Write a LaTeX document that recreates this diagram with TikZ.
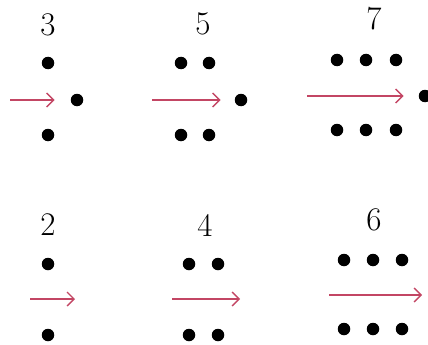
\documentclass[tikz,border=0pt]{standalone}
\usetikzlibrary{arrows.meta}
\definecolor{arrowred}{RGB}{195,70,100}
\begin{document}
\begin{tikzpicture}[x=1pt, y=-1pt,
    mydot/.style={circle, fill=black, inner sep=0pt, minimum size=12.5pt},
    mylabel/.style={font=\fontsize{33}{40}\selectfont, inner sep=0pt},
    myarrow/.style={-{Straight Barb[length=7pt, width=14pt, line width=1.3pt]}, line width=1.5pt, arrowred},
]
\useasboundingbox (0,0) rectangle (428,345);

% top row: odd numbers
\node[mylabel] (lthree) at (48,25) {3};
\node[mydot] (tha) at (48,63) {};
\node[mydot] (thb) at (48,135) {};
\node[mydot] (thm) at (77,100) {};
\coordinate (thstart) at (10,100);

\node[mylabel] (lfive) at (203,24) {5};
\node[mydot] (fia) at (181,63) {};
\node[mydot] (fib) at (209,63) {};
\node[mydot] (fic) at (181,135) {};
\node[mydot] (fid) at (209,135) {};
\node[mydot] (fim) at (241,100) {};
\coordinate (fistart) at (152,100);

\node[mylabel] (lseven) at (374,19) {7};
\node[mydot] (sea) at (337,60) {};
\node[mydot] (seb) at (366,60) {};
\node[mydot] (sec) at (396,60) {};
\node[mydot] (sed) at (337,130) {};
\node[mydot] (see) at (366,130) {};
\node[mydot] (sef) at (396,130) {};
\node[mydot] (sem) at (425,96) {};
\coordinate (sestart) at (307,96);

\draw[myarrow, shorten >=16pt] (thstart) -- (thm);
\draw[myarrow, shorten >=14pt] (fistart) -- (fim);
\draw[myarrow, shorten >=15pt] (sestart) -- (sem);

% bottom row: even numbers
\node[mylabel] (ltwo) at (48,225) {2};
\node[mydot] (twa) at (48,264) {};
\node[mydot] (twb) at (48,335) {};
\coordinate (twstart) at (30,299);
\coordinate (twend) at (75,299);

\node[mylabel] (lfour) at (205,225) {4};
\node[mydot] (foa) at (189,264) {};
\node[mydot] (fob) at (218,264) {};
\node[mydot] (foc) at (189,335) {};
\node[mydot] (fod) at (218,335) {};
\coordinate (fostart) at (172,299);
\coordinate (foend) at (240,299);

\node[mylabel] (lsix) at (374,220) {6};
\node[mydot] (sia) at (344,260) {};
\node[mydot] (sib) at (373,260) {};
\node[mydot] (sic) at (402,260) {};
\node[mydot] (sid) at (344,329) {};
\node[mydot] (sie) at (373,329) {};
\node[mydot] (sif) at (402,329) {};
\coordinate (sistart) at (329,295);
\coordinate (siend) at (422,295);

\draw[myarrow] (twstart) -- (twend);
\draw[myarrow] (fostart) -- (foend);
\draw[myarrow] (sistart) -- (siend);
\end{tikzpicture}
\end{document}
